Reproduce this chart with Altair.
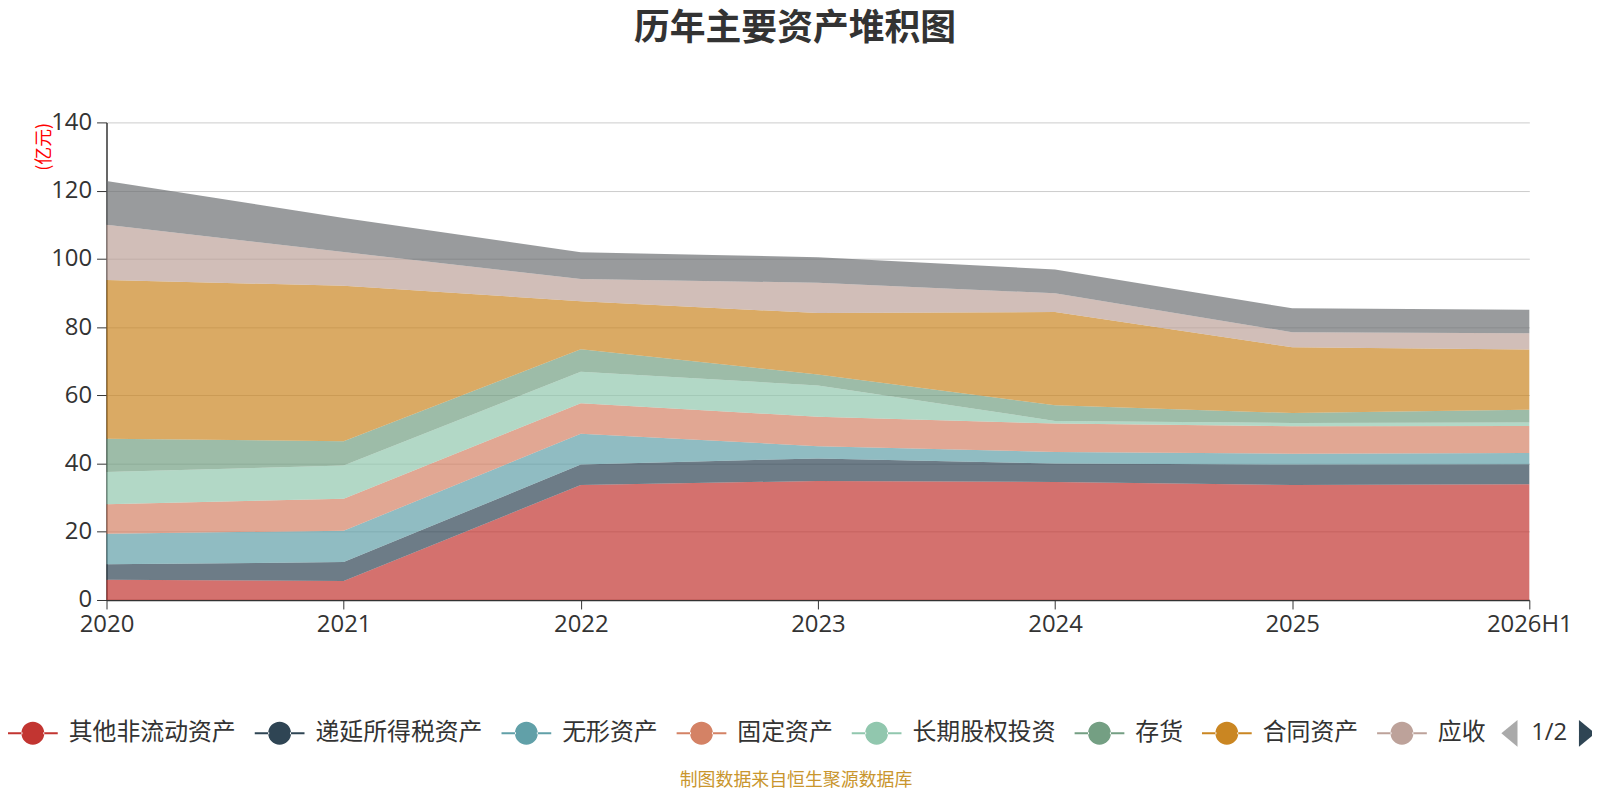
import pandas as pd
import altair as alt

years = ["2020", "2021", "2022", "2023", "2024", "2025", "2026H1"]

series_names = [
    "其他非流动资产", "递延所得税资产", "无形资产", "固定资产", "长期股权投资",
    "存货", "合同资产", "应收账款", "货币资金",
]
series_colors = [
    "#c23531", "#2f4554", "#61a0a8", "#d48265", "#91c7ae",
    "#749f83", "#ca8622", "#bda29a", "#6e7074",
]

other_noncurrent = [5.9, 5.6, 33.7, 34.9, 34.6, 33.7, 33.9]
deferred_tax = [4.6, 5.5, 6.0, 6.6, 5.4, 6.0, 5.9]
intangible = [8.9, 9.2, 9.0, 3.6, 3.4, 3.2, 3.3]
fixed_assets = [8.7, 9.4, 9.0, 8.6, 8.3, 8.0, 7.9]
lt_equity = [9.4, 9.7, 9.2, 9.2, 0.8, 1.0, 1.0]
inventory = [9.8, 7.1, 6.6, 3.2, 4.6, 2.9, 3.8]
contract_assets = [46.5, 45.6, 14.1, 18.0, 27.3, 19.3, 17.6]
receivables = [16.2, 9.9, 6.5, 8.9, 5.5, 4.4, 4.8]
cash = [12.8, 10.0, 7.8, 7.5, 7.0, 7.0, 6.9]

all_values = [other_noncurrent, deferred_tax, intangible, fixed_assets, lt_equity,
              inventory, contract_assets, receivables, cash]

rows = []
for i, (name, vals) in enumerate(zip(series_names, all_values)):
    for year, v in zip(years, vals):
        rows.append({"year": year, "series": name, "value": v, "idx": i})
df = pd.DataFrame(rows)

# line with a dot in the middle, like the echarts legend icon
legend_icon = (
    "M-1,-0.04L-0.42,-0.04L-0.42,0.04L-1,0.04Z "
    "M0.42,-0.04L1,-0.04L1,0.04L0.42,0.04Z "
    "M-0.46,0A0.46,0.46 0 1,0 0.46,0A0.46,0.46 0 1,0 -0.46,0Z"
)

area = alt.Chart(df).mark_area(opacity=0.7, interpolate="linear").encode(
    x=alt.X(
        "year:O", sort=years, scale=alt.Scale(type="point", padding=0),
        axis=alt.Axis(
            title=None, labelAngle=0, labelFont="Open Sans", labelFontSize=24,
            labelColor="#333", labelPadding=4, tickSize=9, tickColor="#333",
            domainColor="#333", domainWidth=1.5, labelFlush=False,
            labelOverlap=False, labelBound=False, grid=False,
        ),
    ),
    y=alt.Y(
        "value:Q", stack="zero", scale=alt.Scale(domain=[0, 140], nice=False),
        axis=alt.Axis(
            values=[0, 20, 40, 60, 80, 100, 120, 140], grid=True, gridColor="#ccc",
            labelFont="Open Sans", labelFontSize=24, labelColor="#333",
            labelPadding=5, tickSize=10, tickColor="#333", domainColor="#333",
            domainWidth=1.5, title="(亿元)", titleColor="red", titleFontSize=18,
            titleFont="Noto Sans CJK SC", titleFontWeight="normal", titleAngle=270,
            titleX=-62, titleY=24, titleAlign="center", titleBaseline="middle",
        ),
    ),
    color=alt.Color(
        "series:N", sort=series_names,
        scale=alt.Scale(domain=series_names, range=series_colors),
        legend=alt.Legend(
            title=None, orient="none", legendX=-99, legendY=589,
            direction="horizontal", values=series_names[:8],
            labelExpr="datum.label == '应收账款' ? '应收' : datum.label",
            symbolType=legend_icon, symbolSize=2500, symbolStrokeWidth=0,
            symbolOpacity=1, labelFont="Noto Sans CJK SC", labelFontSize=24,
            labelColor="#333", labelOffset=11, columnPadding=19, labelLimit=400,
            padding=0,
        ),
    ),
    order=alt.Order("idx:Q", sort="ascending"),
)

# legend pager "◀ 1/2 ▶"
arrow_left = alt.Chart(pd.DataFrame({"k": [0]})).mark_point(
    shape="M0.6,-1L-0.6,0L0.6,1Z", filled=True, size=729, color="#aaa", opacity=1
).encode(x=alt.value(1410), y=alt.value(614))
arrow_right = alt.Chart(pd.DataFrame({"k": [0]})).mark_point(
    shape="M-0.6,-1L0.6,0L-0.6,1Z", filled=True, size=729, color="#2f4554", opacity=1
).encode(x=alt.value(1488), y=alt.value(614))
pager = alt.Chart(pd.DataFrame({"t": ["1/2"]})).mark_text(
    font="Open Sans", fontSize=24, color="#333", align="center", baseline="middle"
).encode(text="t:N", x=alt.value(1450), y=alt.value(614))

source_note = alt.Chart(pd.DataFrame({"t": ["制图数据来自恒生聚源数据库"]})).mark_text(
    font="Noto Sans CJK SC", fontSize=18, color="#c9962e", align="center", baseline="middle"
).encode(text="t:N", x=alt.value(693), y=alt.value(662))

chart = (
    alt.layer(area, arrow_left, arrow_right, pager, source_note)
    .properties(
        width=1430,
        height=480,
        autosize=alt.AutoSizeParams(type="none"),
        padding={"left": 99, "top": 113, "right": 63, "bottom": 191},
        title=alt.TitleParams(
            "历年主要资产堆积图", font="Noto Sans CJK SC", fontSize=36, fontWeight="bold",
            color="#333", anchor="middle", frame="group", offset=63, dx=-23,
        ),
    )
    .configure(background="white")
    .configure_view(strokeWidth=0, stroke="transparent")
)

chart.save("out.html", embed_options={"renderer": "svg", "actions": False})
